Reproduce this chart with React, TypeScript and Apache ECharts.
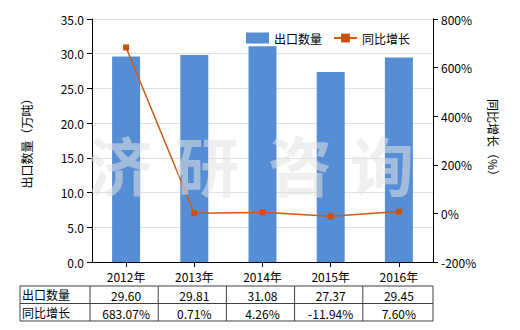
import React, { useEffect, useRef } from "react";
import * as echarts from "echarts";

const categories = ["2012年", "2013年", "2014年", "2015年", "2016年"];
const exportQty = [29.6, 29.81, 31.08, 27.37, 29.45];
const yoyGrowth = [683.07, 0.71, 4.26, -11.94, 7.6];
const qtyLabels = ["29.60", "29.81", "31.08", "27.37", "29.45"];
const yoyLabels = ["683.07%", "0.71%", "4.26%", "-11.94%", "7.60%"];
const rowNames = ["出口数量", "同比增长"];
const watermark = ["济", "研", "咨", "询"];

const FONT = "'Noto Sans CJK SC', 'Microsoft YaHei', sans-serif";

export default function App() {
  const ref = useRef<HTMLDivElement>(null);
  useEffect(() => {
    if (!ref.current) return;
    const chart = echarts.init(ref.current, null, { renderer: "svg" });

    const gridLeft = 92;
    const gridRight = 433;
    const colW = (gridRight - gridLeft) / categories.length;
    const tableLeft = 20;
    const tableTop = 286;
    const rowH = 17.5;

    const graphics: any[] = [];
    // watermark
    const wmX = [120, 207, 300, 382];
    watermark.forEach((ch, i) => {
      graphics.push({
        type: "text",
        x: wmX[i],
        y: 163,
        z: 10,
        style: {
          text: ch,
          font: `bold 64px ${FONT}`,
          fill: "rgba(225,225,225,0.55)",
          textAlign: "center",
          textVerticalAlign: "middle",
        },
      });
    });
    // table lines
    const lineStyle = { stroke: "#404040", lineWidth: 1 };
    const tableBottom = tableTop + rowH * 2;
    for (let r = 0; r <= 2; r++) {
      const y = tableTop + rowH * r;
      graphics.push({ type: "line", shape: { x1: tableLeft, y1: y, x2: gridRight, y2: y }, style: lineStyle });
    }
    graphics.push({ type: "line", shape: { x1: tableLeft, y1: tableTop, x2: tableLeft, y2: tableBottom }, style: lineStyle });
    for (let c = 0; c <= categories.length; c++) {
      const x = gridLeft - 2 + colW * c + (c === categories.length ? 2 : 0);
      graphics.push({ type: "line", shape: { x1: x, y1: tableTop, x2: x, y2: tableBottom }, style: lineStyle });
    }
    const rows = [qtyLabels, yoyLabels];
    rowNames.forEach((name, r) => {
      graphics.push({
        type: "text",
        x: tableLeft + 2,
        y: tableTop + rowH * r + rowH / 2,
        style: { text: name, font: `12px ${FONT}`, fill: "#000", textVerticalAlign: "middle", textAlign: "left" },
      });
      rows[r].forEach((v, c) => {
        graphics.push({
          type: "text",
          x: gridLeft + colW * c + colW / 2,
          y: tableTop + rowH * r + rowH / 2 + 1,
          style: { text: v, font: `12px ${FONT}`, fill: "#000", textVerticalAlign: "middle", textAlign: "center" },
        });
      });
    });

    chart.setOption({
      animation: false,
      textStyle: { fontFamily: FONT },
      grid: { left: gridLeft, right: 520 - gridRight, top: 19, bottom: 68, containLabel: false },
      legend: {
        left: 241,
        top: 27,
        itemGap: 11,
        textStyle: { fontSize: 12, color: "#000", fontFamily: FONT },
        data: [
          { name: "出口数量", icon: "rect", itemStyle: { color: "#558ed5" } },
          { name: "同比增长" },
        ],
        itemWidth: 23,
        itemHeight: 11,
      },
      xAxis: {
        type: "category",
        data: categories,
        axisLine: { lineStyle: { color: "#000" } },
        axisTick: { show: true, alignWithLabel: true, lineStyle: { color: "#000" } },
        axisLabel: { color: "#000", fontSize: 12, margin: 8 },
      },
      yAxis: [
        {
          type: "value",
          min: 0,
          max: 35,
          interval: 5,
          name: "出口数量（万吨）",
          nameLocation: "middle",
          nameGap: 60,
          nameRotate: 90,
          nameTextStyle: { color: "#000", fontSize: 12 },
          axisLine: { show: true, lineStyle: { color: "#000" } },
          axisTick: { show: true, lineStyle: { color: "#000" } },
          axisLabel: { color: "#000", fontSize: 12, formatter: (v: number) => v.toFixed(1) },
          splitLine: { lineStyle: { color: "#e0e0e0" } },
        },
        {
          type: "value",
          min: -200,
          max: 800,
          interval: 200,
          name: "同比增长（%）",
          nameLocation: "middle",
          nameGap: 52,
          nameRotate: -90,
          nameTextStyle: { color: "#000", fontSize: 12 },
          axisLine: { show: true, lineStyle: { color: "#000" } },
          axisTick: { show: true, lineStyle: { color: "#000" } },
          axisLabel: { color: "#000", fontSize: 12, formatter: (v: number) => v + "%" },
          splitLine: { show: false },
        },
      ],
      series: [
        {
          name: "出口数量",
          type: "bar",
          data: exportQty,
          barWidth: 28,
          itemStyle: { color: "#558ed5" },
        },
        {
          name: "同比增长",
          type: "line",
          yAxisIndex: 1,
          data: yoyGrowth,
          symbol: "rect",
          symbolSize: 6,
          lineStyle: { color: "#d0580f", width: 1.5 },
          itemStyle: { color: "#c8500a" },
          z: 5,
        },
      ],
      graphic: graphics,
    });
    return () => chart.dispose();
  }, []);
  return <div ref={ref} style={{ width: 520, height: 330, position: "absolute", left: 0, top: 0 }} />;
}
